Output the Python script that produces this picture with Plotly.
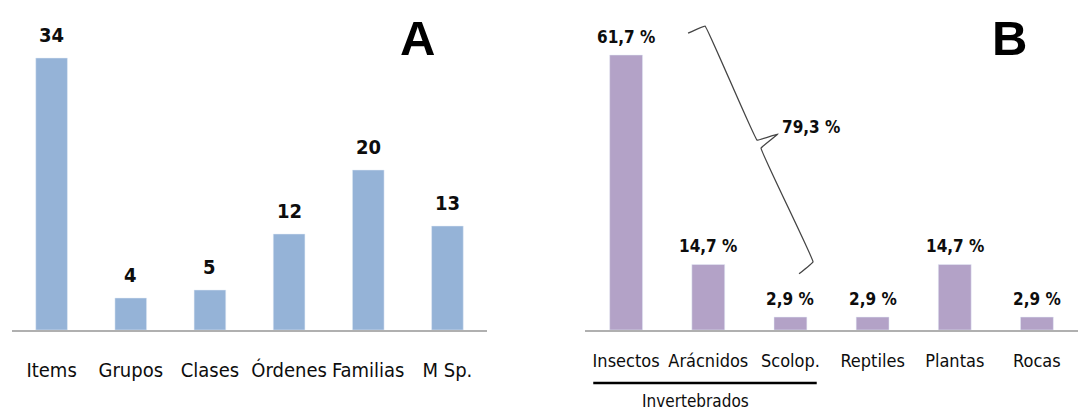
import plotly.graph_objects as go

# Panel A: counts per taxonomic level
cats_a = ["Items", "Grupos", "Clases", "Órdenes", "Familias", "M Sp."]
vals_a = [34, 4, 5, 12, 20, 13]

# Panel B: percentage of each diet component
cats_b = ["Insectos", "Arácnidos", "Scolop.", "Reptiles", "Plantas", "Rocas"]
vals_b = [61.7, 14.7, 2.9, 2.9, 14.7, 2.9]
group_label = "Invertebrados"
group_total = 79.3

FONT = "DejaVu Sans Condensed, Liberation Sans Narrow, sans-serif"
BLUE = "#95b3d7"
PURPLE = "#b3a2c7"
AXIS = "#b0b0b0"
INK = "#0d0d0d"

pos_a = list(range(len(cats_a)))
pos_b = list(range(len(cats_b)))

def pct(v):
    return f"{v:.1f}".replace(".", ",") + " %"

fig = go.Figure()
fig.add_trace(go.Bar(x=pos_a, y=vals_a, marker_color=BLUE, xaxis="x", yaxis="y",
                     width=0.4, hoverinfo="skip"))
fig.add_trace(go.Bar(x=pos_b, y=vals_b, marker_color=PURPLE, xaxis="x2", yaxis="y2",
                     width=0.4, hoverinfo="skip"))

annotations = []
for p, v in zip(pos_a, vals_a):
    annotations.append(dict(x=p, y=v, xref="x", yref="y", text=str(v), showarrow=False,
                            yanchor="middle", yshift=23,
                            font=dict(family=FONT, size=20, color=INK, weight="bold")))
for p, v in zip(pos_b, vals_b):
    annotations.append(dict(x=p, y=v, xref="x2", yref="y2", text=pct(v), showarrow=False,
                            yanchor="middle", yshift=18,
                            font=dict(family=FONT, size=17, color=INK, weight="bold")))

# Panel letters
for letter, px in (("A", 0.386), ("B", 0.933)):
    annotations.append(dict(x=px, y=0.908, xref="paper", yref="paper", text=letter,
                            showarrow=False, xanchor="center", yanchor="middle",
                            font=dict(family="Arial, Liberation Sans", size=49,
                                      color="#000000", weight="bold")))

# Curly brace grouping the invertebrates, in panel B data coordinates
brace_x = [0.754, 0.961, 1.594, 1.849, 1.642, 2.275, 2.105]
brace_y = [66.6, 68.2, 42.6, 44.0, 40.8, 15.3, 12.6]
fig.add_trace(go.Scatter(x=brace_x, y=brace_y, mode="lines", xaxis="x2", yaxis="y2",
                         line=dict(color="#444444", width=1.3, shape="spline",
                                   smoothing=0.15),
                         hoverinfo="skip"))
annotations.append(dict(x=1.87, y=45.5, xref="x2", yref="y2", text=pct(group_total),
                        showarrow=False, xanchor="left", yanchor="middle",
                        font=dict(family=FONT, size=17, color=INK, weight="bold")))

# Group underline and label below the tick labels
annotations.append(dict(x=0.84, y=0.022, xref="x2", yref="paper", text=group_label,
                        showarrow=False, yanchor="middle",
                        font=dict(family=FONT, size=17, color=INK)))

shapes = [dict(type="line", xref="x2", yref="paper", x0=-0.4, x1=2.32, y0=0.066, y1=0.066,
               line=dict(color="#000000", width=2.5))]

axis_common = dict(showline=True, linecolor=AXIS, linewidth=1.5, showgrid=False,
                   zeroline=False, ticks="", tickangle=0, automargin=False,
                   fixedrange=True, range=[-0.5, 5.5], tickmode="array")

fig.update_layout(
    width=1082, height=410,
    margin=dict(l=0, r=0, t=0, b=0),
    paper_bgcolor="white", plot_bgcolor="white",
    showlegend=False,
    xaxis=dict(domain=[0.0111, 0.4501], tickvals=pos_a, ticktext=cats_a,
               ticklabelstandoff=21, tickfont=dict(family=FONT, size=20, color=INK),
               anchor="y", **axis_common),
    yaxis=dict(domain=[0.1951, 0.9756], range=[0, 40], visible=False, fixedrange=True,
               automargin=False),
    xaxis2=dict(domain=[0.5407, 0.9963], tickvals=pos_b, ticktext=cats_b,
                ticklabelstandoff=14, tickfont=dict(family=FONT, size=18, color=INK),
                anchor="y2", **axis_common),
    yaxis2=dict(domain=[0.1951, 0.9756], range=[0, 71.8], visible=False, fixedrange=True,
                anchor="x2", automargin=False),
    annotations=annotations,
    shapes=shapes,
)

fig.write_html("out.html")
